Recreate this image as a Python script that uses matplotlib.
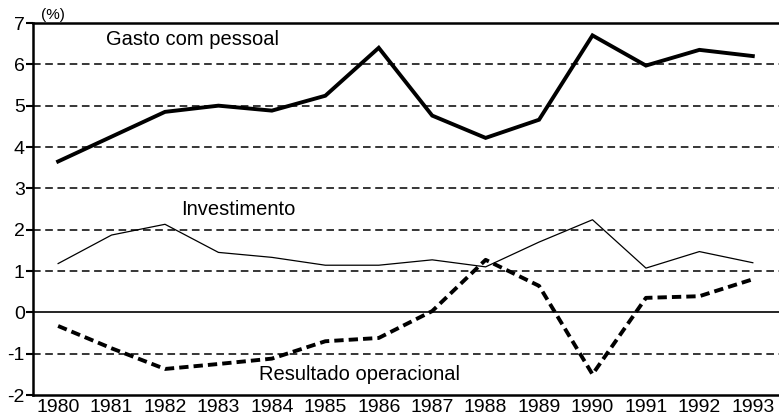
import matplotlib
matplotlib.use("Agg")
import matplotlib.pyplot as plt
import numpy as np

plt.rcParams["font.family"] = ["Liberation Sans", "DejaVu Sans"]

# data (%)
years = [1980, 1981, 1982, 1983, 1984, 1985, 1986, 1987, 1988, 1989, 1990, 1991, 1992, 1993]
gasto = [3.65, 4.25, 4.85, 5.0, 4.88, 5.24, 6.4, 4.76, 4.22, 4.66, 6.7, 5.97, 6.35, 6.2]
invest = [1.18, 1.87, 2.13, 1.45, 1.33, 1.14, 1.14, 1.27, 1.1, 1.7, 2.24, 1.07, 1.47, 1.2]
result = [-0.33, -0.87, -1.37, -1.25, -1.12, -0.7, -0.62, 0.03, 1.27, 0.64, -1.5, 0.35, 0.39, 0.8]

yticks = [-2, -1, 0, 1, 2, 3, 4, 5, 6, 7]
grid_levels = [-1, 1, 2, 3, 4, 5, 6]

fig = plt.figure(figsize=(7.79, 4.18), dpi=100)
ax = fig.add_axes([33/779, 1 - 395/418, 746/779, 372/418])

for g in grid_levels:
    ax.axhline(g, color="k", lw=1.1, ls=(0, (5, 3)), zorder=1)
ax.axhline(0, color="k", lw=1.2, zorder=1)

ax.plot(years, gasto, color="k", lw=2.8, solid_joinstyle="miter", zorder=3)
ax.plot(years, invest, color="k", lw=0.9, zorder=3)
ax.plot(years, result, color="k", lw=2.8, ls=(0, (2.4, 1.3)), zorder=3)

ax.set_xlim(1979.53, 1993.49)
ax.set_ylim(-2, 7)
ax.set_xticks(years)
ax.set_xticklabels([str(y) for y in years])
ax.set_yticks(yticks)
ax.set_yticklabels([str(v) for v in yticks])
ax.tick_params(axis="x", length=0, pad=3, labelsize=14)
ax.tick_params(axis="y", length=5, width=1.5, direction="out", pad=1, labelsize=14)

for side in ["left", "bottom", "top"]:
    ax.spines[side].set_linewidth(1.8)
ax.spines["right"].set_linewidth(0.6)
ax.spines["right"].set_color("0.6")

ax.text(1980.9, 6.6, "Gasto com pessoal", fontsize=14.5, va="center", ha="left")
ax.text(1982.3, 2.5, "Investimento", fontsize=14.5, va="center", ha="left")
ax.text(1983.75, -1.5, "Resultado operacional", fontsize=14.5, va="center", ha="left")
ax.text(1979.68, 7.02, "(%)", fontsize=11, va="bottom", ha="left")

fig.savefig("out.png", dpi=100)
